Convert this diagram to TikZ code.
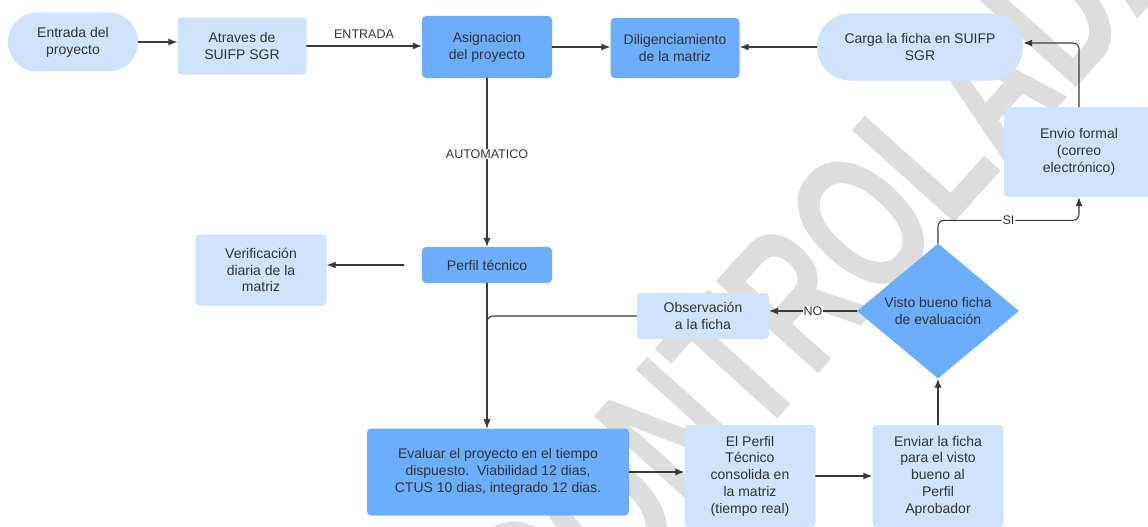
\documentclass[tikz,border=0pt]{standalone}
\usepackage{fontspec}
\setmainfont{Liberation Sans}
\usepackage{tikz}
\usetikzlibrary{arrows.meta,shapes.geometric}
\definecolor{ink}{HTML}{333333}
\definecolor{wire}{HTML}{3A3A3A}
\definecolor{pale}{HTML}{CFE3FD}
\definecolor{deep}{HTML}{6BAEFD}
\definecolor{wmgrey}{HTML}{DDDDDD}
\tikzset{
  box/.style={rectangle, rounded corners=4pt, inner sep=0pt, align=center, text=ink,
    font=\fontsize{14}{16.8}\selectfont},
  palebox/.style={box, fill=pale},
  deepbox/.style={box, fill=deep},
  pill/.style={palebox, rounded corners=#1},
  choice/.style={diamond, fill=deep, inner sep=0pt, align=center, text=ink,
    font=\fontsize{14}{16.8}\selectfont},
  arr/.style={draw=wire, line width=1.1pt, -{Latex[length=9pt,width=7pt]}},
  lab/.style={text=ink, font=\fontsize{12.5}{14}\selectfont, inner sep=1pt},
  onwire/.style={lab, fill=white},
  wmark/.style={text=wmgrey, inner sep=0pt, font=\bfseries\fontsize{200}{200}\selectfont}
}
\begin{document}
\begin{tikzpicture}[x=1pt, y=-1pt, line cap=round, line join=round]
  \useasboundingbox (0,0) rectangle (1148,527);
  \node[wmark, rotate=48, anchor=base] (marca) at (878,308) {\scalebox{0.68}[1]{CONTROLADA}};
  \node[pill=29pt, minimum width=130pt, minimum height=59pt] (entrada) at (73,42) {Entrada del\\proyecto};
  \node[palebox, minimum width=129pt, minimum height=57pt] (atraves) at (242,46) {Atraves de\\SUIFP SGR};
  \node[deepbox, minimum width=130pt, minimum height=62pt] (asign) at (487,47) {Asignacion\\del proyecto};
  \node[deepbox, minimum width=129pt, minimum height=60pt] (dilig) at (675,48) {Diligenciamiento\\de la matriz};
  \node[pill=33pt, minimum width=206pt, minimum height=67pt] (carga) at (920,47) {Carga la ficha en SUIFP\\SGR};
  \node[palebox, minimum width=150pt, minimum height=90pt] (envio) at (1079,152) {Envio formal\\(correo\\electrónico)};
  \node[choice, minimum width=162pt, minimum height=135pt] (visto) at (938,311) {Visto bueno ficha\\de evaluación};
  \node[palebox, minimum width=132pt, minimum height=46pt] (obs) at (703,316) {Observación\\a la ficha};
  \node[deepbox, minimum width=130pt, minimum height=36pt] (perfil) at (487,265) {Perfil técnico};
  \node[palebox, minimum width=131pt, minimum height=71pt] (verif) at (261,270) {Verificación\\diaria de la\\matriz};
  \node[deepbox, minimum width=262pt, minimum height=87pt] (evaluar) at (498,472) {Evaluar el proyecto en el tiempo\\dispuesto.~~Viabilidad 12 dias,\\CTUS 10 dias, integrado 12 dias.};
  \node[palebox, minimum width=131pt, minimum height=102pt] (consol) at (750,476) {El Perfil\\Técnico\\consolida en\\la matriz\\(tiempo real)};
  \node[palebox, minimum width=131pt, minimum height=102pt] (enviar) at (938,476) {Enviar la ficha\\para el visto\\bueno al\\Perfil\\Aprobador};
  \node[lab] (entlab) at (364,34) {ENTRADA};

  \draw[arr] (entrada.east) -- (entrada.east -| atraves.west);
  \draw[arr] (atraves.east) -- (atraves.east -| asign.west);
  \draw[arr] (asign.east) -- (asign.east -| dilig.west);
  \draw[arr] (carga.west) -- (carga.west -| dilig.east);
  \draw[arr, rounded corners=6pt] (envio.north) |- ([yshift=4pt]carga.east);
  \draw[arr, rounded corners=6pt] (visto.north) -- ++(0,-23) -| node[pos=0.25, onwire] {SI} (envio.south);
  \draw[arr] (visto.west) -- node[onwire] {NO} (visto.west -| obs.east);
  \draw[arr] (asign.south) -- node[pos=0.45, onwire] {AUTOMATICO} (perfil.north);
  \draw[arr, shorten <=18pt] (perfil.west) -- (perfil.west -| verif.east);
  \draw[arr] (perfil.south) -- (perfil.south |- evaluar.north);
  \draw[arr, rounded corners=6pt] (obs.west) -| (perfil.south |- evaluar.north);
  \draw[arr] (evaluar.east) -- (evaluar.east -| consol.west);
  \draw[arr] (consol.east) -- (consol.east -| enviar.west);
  \draw[arr] (enviar.north) -- (visto.south);
\end{tikzpicture}
\end{document}
